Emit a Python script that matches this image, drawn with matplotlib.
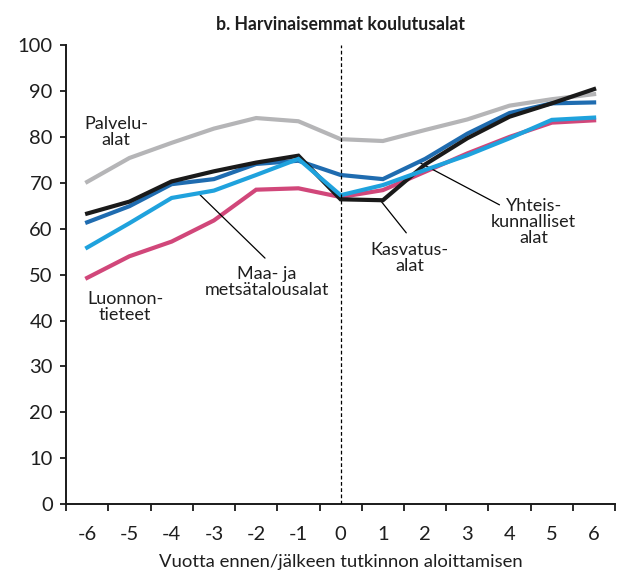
import matplotlib
matplotlib.use("Agg")
import matplotlib.pyplot as plt

plt.rcParams["font.family"] = ["Lato", "DejaVu Sans"]

years = [-6, -5, -4, -3, -2, -1, 0, 1, 2, 3, 4, 5, 6]
year_labels = ["-6", "-5", "-4", "-3", "-2", "-1", "0", "1", "2", "3", "4", "5", "6"]

palvelualat = [70.2, 75.4, 78.7, 81.8, 84.1, 83.4, 79.5, 79.1, 81.5, 83.8, 86.8, 88.2, 89.3]
kasvatusalat = [63.3, 65.9, 70.3, 72.5, 74.4, 75.9, 66.4, 66.2, 74.0, 79.7, 84.4, 87.3, 90.4]
yhteiskunnalliset = [61.4, 64.9, 69.7, 70.8, 74.1, 74.8, 71.7, 70.8, 75.2, 80.7, 85.2, 87.3, 87.5]
maa_ja_metsatalous = [55.9, 61.2, 66.7, 68.3, 71.7, 75.2, 67.3, 69.5, 72.8, 76.0, 79.7, 83.7, 84.2]
luonnontieteet = [49.3, 54.0, 57.2, 61.8, 68.5, 68.8, 66.9, 68.4, 72.4, 76.4, 80.0, 83.1, 83.6]

y_ticks = [0, 10, 20, 30, 40, 50, 60, 70, 80, 90, 100]

title = "b. Harvinaisemmat koulutusalat"
x_title = "Vuotta ennen/jälkeen tutkinnon aloittamisen"

text_color = "#1e1e1e"

fig = plt.figure(figsize=(6.2, 5.72), dpi=100)
ax = fig.add_axes([0.1065, 0.1184, 0.8858, 0.8029])

lw = 3.0
ax.plot(years, palvelualat, color="#b5b5b7", lw=lw, zorder=2, solid_joinstyle="miter")
ax.plot(years, luonnontieteet, color="#d1477a", lw=lw, zorder=3, solid_joinstyle="miter")
ax.plot(years, yhteiskunnalliset, color="#1f6cb0", lw=lw, zorder=4, solid_joinstyle="miter")
ax.plot(years, kasvatusalat, color="#1a1a1a", lw=lw, zorder=5, solid_joinstyle="miter")
ax.plot(years, maa_ja_metsatalous, color="#1fa2dd", lw=lw, zorder=6, solid_joinstyle="miter")

# marker line at the start of the degree
ax.axvline(0, color="black", lw=0.9, ls=(0, (3, 2)), zorder=7)

ax.set_xlim(-6.5, 6.5)
ax.set_ylim(0, 100)
ax.set_yticks(y_ticks)
ax.set_xticks(years)
ax.set_xticklabels(year_labels)
ax.set_xticks([y - 0.5 for y in years] + [6.5], minor=True)

for s in ("top", "right"):
    ax.spines[s].set_visible(False)
for s in ("left", "bottom"):
    ax.spines[s].set_linewidth(1.4)
    ax.spines[s].set_color("#1a1a1a")

ax.tick_params(axis="y", direction="out", length=4.5, width=1.3, pad=5, labelsize=14.5,
               color="#1a1a1a", labelcolor=text_color)
ax.tick_params(axis="x", which="major", length=0, pad=15.5, labelsize=14.5,
               labelcolor=text_color)
ax.tick_params(axis="x", which="minor", direction="out", length=5, width=1.3, color="#1a1a1a")

ax.set_title(title, fontsize=12.7, fontweight="bold", pad=11, color=text_color)
ax.set_xlabel(x_title, fontsize=13.3, labelpad=8, color=text_color)

label_kw = dict(fontsize=13, color=text_color, ha="center", va="center", linespacing=1.0)
ax.text(-5.32, 81.1, "Palvelu-\nalat", **label_kw)
ax.text(-5.1, 42.9, "Luonnon-\ntieteet", **label_kw)

arrow = dict(arrowstyle="-", color="black", lw=0.9, shrinkA=0, shrinkB=0)
ax.annotate("", xy=(-3.375, 67.8), xytext=(-1.79, 53.6), arrowprops=arrow)
ax.text(-1.75, 48.5, "Maa- ja\nmetsätalousalat", **label_kw)

ax.annotate("", xy=(0.965, 65.9), xytext=(1.554, 59.1), arrowprops=arrow)
ax.text(1.64, 53.7, "Kasvatus-\nalat", **label_kw)

ax.annotate("", xy=(1.83, 74.6), xytext=(3.76, 65.2), arrowprops=arrow)
ax.text(4.57, 61.4, "Yhteis-\nkunnalliset\nalat", **label_kw)

fig.savefig("out.png", dpi=100)
